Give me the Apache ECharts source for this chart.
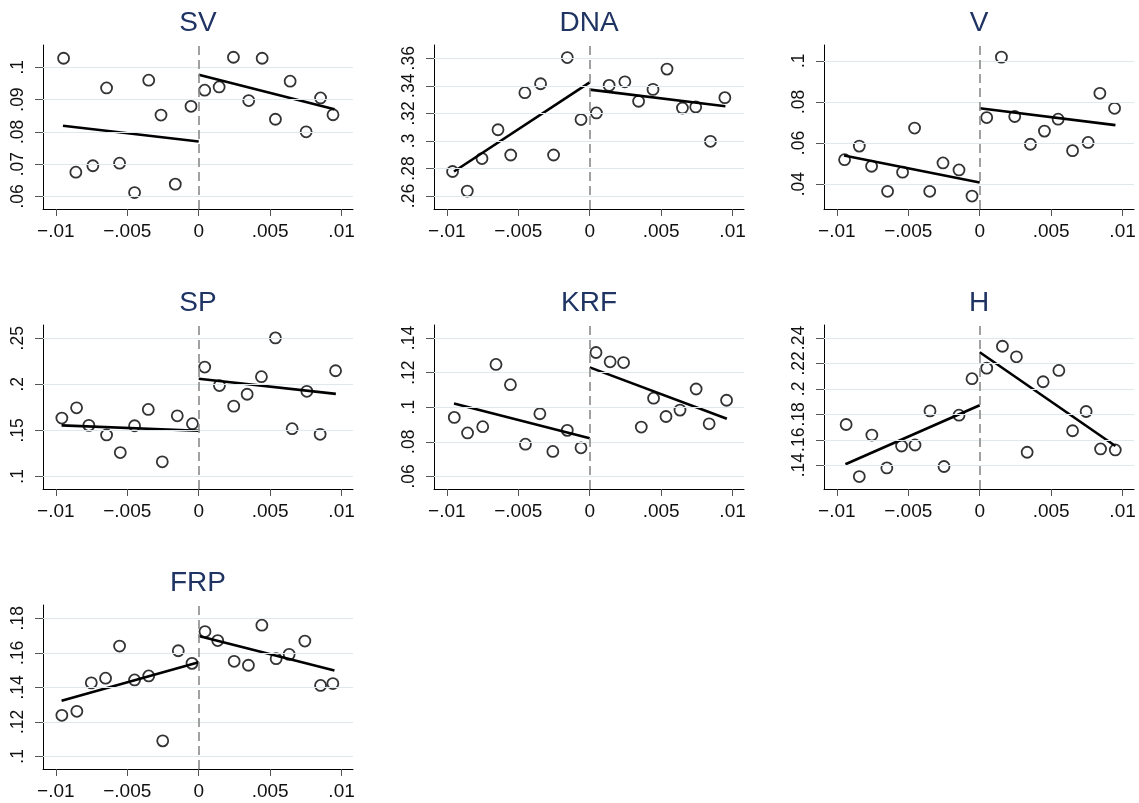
<!DOCTYPE html>
<html>
<head>
<meta charset="utf-8">
<script src="https://cdn.jsdelivr.net/npm/echarts@6/dist/echarts.min.js"></script>
<style>
  html, body { margin: 0; padding: 0; background: #fff; }
  #main { width: 1139px; height: 803px; }
</style>
</head>
<body>
<div id="main"></div>
<script>
// shared x axis (running variable)
const xRange = [-0.0109, 0.0108];
const xTicks = [-0.01, -0.005, 0, 0.005, 0.01];
const xTickLabels = ['\u2212.01', '\u2212.005', '0', '.005', '.01'];

// SV
const svX = [-0.00946, -0.0086, -0.00741, -0.00645, -0.00554, -0.00449, -0.0035, -0.00264, -0.00164, -0.00054,
  0.00042, 0.00143, 0.00243, 0.0035, 0.00444, 0.00537, 0.0064, 0.00752, 0.00853, 0.0094];
const svY = [0.1028, 0.0675, 0.0695, 0.0936, 0.0703, 0.0612, 0.0960, 0.0852, 0.0638, 0.0879,
  0.0929, 0.0939, 0.1031, 0.0897, 0.1028, 0.0839, 0.0957, 0.0800, 0.0905, 0.0853];
const svFitL = [[-0.0095, 0.0819], [0, 0.0770]];
const svFitR = [[0, 0.0977], [0.0095, 0.0870]];
const svRange = [0.0561, 0.1069];
const svTicks = [0.06, 0.07, 0.08, 0.09, 0.1];

// DNA
const dnaX = [-0.0096, -0.00857, -0.00754, -0.00642, -0.00553, -0.00454, -0.00344, -0.00253, -0.00157, -0.00061,
  0.00047, 0.00136, 0.00246, 0.00342, 0.00443, 0.00541, 0.00649, 0.00742, 0.00845, 0.00946];
const dnaY = [0.2778, 0.2636, 0.2872, 0.3081, 0.2898, 0.3350, 0.3415, 0.2898, 0.3605, 0.3155,
  0.3203, 0.3403, 0.3429, 0.3288, 0.3374, 0.3521, 0.3239, 0.3247, 0.2997, 0.3314];
const dnaFitL = [[-0.0095, 0.2778], [0, 0.3425]];
const dnaFitR = [[0, 0.3372], [0.0095, 0.3251]];
const dnaRange = [0.2506, 0.3696];
const dnaTicks = [0.26, 0.28, 0.3, 0.32, 0.34, 0.36];

// V
const vX = [-0.00946, -0.00843, -0.00757, -0.00645, -0.0054, -0.00456, -0.0035, -0.00257, -0.00145, -0.00054,
  0.00049, 0.00152, 0.00245, 0.00355, 0.00453, 0.00549, 0.0065, 0.00759, 0.00841, 0.00944];
const vY = [0.0519, 0.0585, 0.0487, 0.0365, 0.0458, 0.0673, 0.0365, 0.0503, 0.0469, 0.0342,
  0.0724, 0.1018, 0.0729, 0.0594, 0.0658, 0.0716, 0.0563, 0.0603, 0.0842, 0.0769];
const vFitL = [[-0.0095, 0.0539], [0, 0.0408]];
const vFitR = [[0, 0.0769], [0.0095, 0.0687]];
const vRange = [0.0279, 0.1077];
const vTicks = [0.04, 0.06, 0.08, 0.1];

// SP
const spX = [-0.00958, -0.00855, -0.00769, -0.00645, -0.00549, -0.00449, -0.00353, -0.00255, -0.0015, -0.00044,
  0.00042, 0.00145, 0.00245, 0.00339, 0.00439, 0.00537, 0.00654, 0.00757, 0.0085, 0.00958];
const spY = [0.1633, 0.1745, 0.1554, 0.1450, 0.1259, 0.1550, 0.1727, 0.1158, 0.1658, 0.1572,
  0.2187, 0.1986, 0.1763, 0.1892, 0.2083, 0.2504, 0.1518, 0.1924, 0.1457, 0.2147];
const spFitL = [[-0.0096, 0.1554], [0, 0.1496]];
const spFitR = [[0, 0.2061], [0.0096, 0.1896]];
const spRange = [0.0863, 0.2644];
const spTicks = [0.1, 0.15, 0.2, 0.25];

// KRF
const krfX = [-0.00948, -0.00855, -0.00749, -0.00656, -0.00555, -0.0045, -0.00349, -0.00258, -0.00157, -0.00061,
  0.00044, 0.00143, 0.00237, 0.00361, 0.00447, 0.00534, 0.00632, 0.00745, 0.00836, 0.00958];
const krfY = [0.0941, 0.0851, 0.0887, 0.1247, 0.1130, 0.0786, 0.0962, 0.0744, 0.0866, 0.0765,
  0.1316, 0.1262, 0.1258, 0.0885, 0.1052, 0.0946, 0.0983, 0.1105, 0.0904, 0.1040];
const krfFitL = [[-0.0095, 0.1021], [0, 0.0820]];
const krfFitR = [[0, 0.1230], [0.0096, 0.0933]];
const krfRange = [0.0527, 0.1475];
const krfTicks = [0.06, 0.08, 0.1, 0.12, 0.14];

// H
const hX = [-0.00935, -0.00843, -0.00755, -0.0065, -0.00547, -0.00453, -0.00348, -0.0025, -0.00145, -0.00054,
  0.00049, 0.00159, 0.00257, 0.00332, 0.00444, 0.00554, 0.0065, 0.00745, 0.00846, 0.00949];
const hY = [0.1720, 0.1311, 0.1637, 0.1379, 0.1551, 0.1559, 0.1827, 0.1390, 0.1793, 0.2080,
  0.2163, 0.2335, 0.2252, 0.1502, 0.2056, 0.2145, 0.1671, 0.1822, 0.1528, 0.1520];
const hFitL = [[-0.0094, 0.1408], [0, 0.1871]];
const hFitR = [[0, 0.2288], [0.0095, 0.1551]];
const hRange = [0.1213, 0.2502];
const hTicks = [0.14, 0.16, 0.18, 0.2, 0.22, 0.24];

// FRP
const frpX = [-0.00958, -0.00853, -0.00752, -0.00652, -0.00554, -0.00449, -0.0035, -0.00252, -0.00143, -0.00047,
  0.00044, 0.00133, 0.00248, 0.00348, 0.00442, 0.00542, 0.00633, 0.00743, 0.00853, 0.00939];
const frpY = [0.1238, 0.1261, 0.1426, 0.1453, 0.1639, 0.1443, 0.1466, 0.1090, 0.1612, 0.1539,
  0.1723, 0.1671, 0.1551, 0.1528, 0.1760, 0.1566, 0.1591, 0.1668, 0.1411, 0.1422];
const frpFitL = [[-0.0096, 0.1322], [0, 0.1545]];
const frpFitR = [[0, 0.1698], [0.0095, 0.1497]];
const frpRange = [0.0927, 0.1877];
const frpTicks = [0.1, 0.12, 0.14, 0.16, 0.18];

const panels = [
  { name: 'SV', x: svX, y: svY, fitL: svFitL, fitR: svFitR, range: svRange, ticks: svTicks },
  { name: 'DNA', x: dnaX, y: dnaY, fitL: dnaFitL, fitR: dnaFitR, range: dnaRange, ticks: dnaTicks },
  { name: 'V', x: vX, y: vY, fitL: vFitL, fitR: vFitR, range: vRange, ticks: vTicks },
  { name: 'SP', x: spX, y: spY, fitL: spFitL, fitR: spFitR, range: spRange, ticks: spTicks },
  { name: 'KRF', x: krfX, y: krfY, fitL: krfFitL, fitR: krfFitR, range: krfRange, ticks: krfTicks },
  { name: 'H', x: hX, y: hY, fitL: hFitL, fitR: hFitR, range: hRange, ticks: hTicks },
  { name: 'FRP', x: frpX, y: frpY, fitL: frpFitL, fitR: frpFitR, range: frpRange, ticks: frpTicks }
];

const font = '"Liberation Sans", Arial, sans-serif';
const colLeft = [43, 434, 824];
const rowTop = [45, 325, 605];
const plotW = 310, plotH = 164;

function xFmt(v) {
  const i = xTicks.findIndex(t => Math.abs(t - v) < 1e-9);
  return i >= 0 ? xTickLabels[i] : '';
}
function yFmt(v) {
  return String(+v.toFixed(4)).replace(/^0\./, '.');
}

const grid = [], xAxis = [], yAxis = [], series = [], graphic = [];

panels.forEach(function (p, i) {
  const left = colLeft[i % 3], top = rowTop[Math.floor(i / 3)];
  grid.push({ left: left, top: top, width: plotW, height: plotH });

  xAxis.push({
    gridIndex: i, type: 'value', min: xRange[0], max: xRange[1],
    axisLine: { onZero: false, lineStyle: { color: '#000', width: 1 } },
    axisTick: { customValues: xTicks, length: 7, lineStyle: { color: '#555' } },
    axisLabel: {
      customValues: xTicks, formatter: xFmt, fontSize: 19, color: '#111', margin: 13, fontFamily: font,
      showMinLabel: true, showMaxLabel: true
    },
    splitLine: { show: false }
  });
  yAxis.push({
    gridIndex: i, type: 'value', min: p.range[0], max: p.range[1],
    axisLine: { show: true, onZero: false, lineStyle: { color: '#000', width: 1 } },
    axisTick: { show: true, customValues: p.ticks, length: 8, lineStyle: { color: '#555' } },
    axisLabel: {
      customValues: p.ticks, formatter: yFmt, rotate: 90, fontSize: 17.5, color: '#111', margin: 16, fontFamily: font,
      showMinLabel: true, showMaxLabel: true, hideOverlap: false
    },
    splitLine: { show: false }
  });

  // gridlines
  series.push({
    type: 'scatter', xAxisIndex: i, yAxisIndex: i, data: [], z: 1, silent: true,
    markLine: {
      silent: true, symbol: ['none', 'none'], label: { show: false }, animation: false,
      lineStyle: { color: '#dfe9ec', width: 1.2, type: 'solid' },
      data: p.ticks.map(v => ({ yAxis: v }))
    }
  });
  // cutoff line + bins
  series.push({
    type: 'scatter', xAxisIndex: i, yAxisIndex: i, z: 3,
    data: p.x.map((v, k) => [v, p.y[k]]),
    symbol: 'circle', symbolSize: 11,
    itemStyle: { color: 'rgba(255,255,255,0)', borderColor: '#000', borderWidth: 1.8 },
    emphasis: { disabled: true },
    markLine: {
      silent: true, symbol: ['none', 'none'], label: { show: false }, animation: false,
      lineStyle: { color: '#8a8a8a', width: 1.6, type: [9, 5] },
      data: [{ xAxis: 0 }]
    }
  });
  // fitted lines
  [p.fitL, p.fitR].forEach(function (seg) {
    series.push({
      type: 'line', xAxisIndex: i, yAxisIndex: i, z: 4, data: seg,
      showSymbol: false, silent: true,
      lineStyle: { color: '#000', width: 2.6 }
    });
  });

  graphic.push({
    type: 'text', x: left + plotW / 2, y: top - 22,
    style: { text: p.name, font: '28px ' + font, fill: '#1f3463', textAlign: 'center', textVerticalAlign: 'middle' }
  });
});

const chart = echarts.init(document.getElementById('main'), null, { renderer: 'canvas' });
chart.setOption({
  animation: false,
  backgroundColor: '#fff',
  grid: grid,
  xAxis: xAxis,
  yAxis: yAxis,
  series: series,
  graphic: graphic
});
</script>
</body>
</html>
